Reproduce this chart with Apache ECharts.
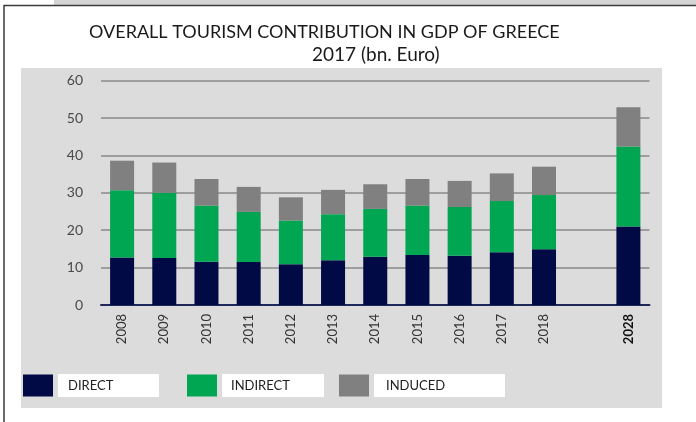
<!DOCTYPE html>
<html>
<head>
<meta charset="utf-8">
<script src="https://cdn.jsdelivr.net/npm/echarts@6/dist/echarts.min.js"></script>
<style>
  html, body { margin: 0; padding: 0; background: #ffffff; }
  #chart { width: 696px; height: 422px; }
</style>
</head>
<body>
<div id="chart"></div>
<script>
// Years on the axis; the blank slot separates the historic series from the 2028 forecast
const years = ['2008', '2009', '2010', '2011', '2012', '2013', '2014', '2015', '2016', '2017', '2018', '', '2028'];

// Contribution to GDP, bn. Euro
const direct   = [12.7, 12.6, 11.6, 11.5, 10.9, 12.0, 12.9, 13.4, 13.2, 14.1, 14.9, null, 21.0];
const indirect = [18.0, 17.4, 15.0, 13.4, 11.7, 12.3, 12.8, 13.2, 13.0, 13.7, 14.5, null, 21.4];
const induced  = [ 7.9,  8.1,  7.1,  6.7,  6.2,  6.5,  6.6,  7.1,  7.0,  7.4,  7.6, null, 10.5];

const yTicks = { min: 0, max: 60, interval: 10 };

const seriesNames = ['DIRECT', 'INDIRECT', 'INDUCED'];
const seriesColors = ['#020a45', '#00a651', '#808080'];

const chart = echarts.init(document.getElementById('chart'), null, { renderer: 'canvas' });

function legendFor(name, left, boxWidth, padLeft) {
  return {
    data: [name],
    left: left,
    top: 374,
    orient: 'horizontal',
    icon: 'rect',
    itemWidth: 30,
    itemHeight: 22,
    selectedMode: false,
    padding: 0,
    textStyle: {
      fontFamily: 'Lato, "Liberation Sans", sans-serif',
      fontSize: 13,
      color: '#222222',
      backgroundColor: '#ffffff',
      width: boxWidth - padLeft,
      height: 23,
      lineHeight: 23,
      padding: [0, 0, 0, padLeft]
    }
  };
}

const option = {
  backgroundColor: '#ffffff',
  animation: false,
  graphic: [
    // light strip along the top edge
    { type: 'rect', shape: { x: 54, y: 0, width: 642, height: 5 }, style: { fill: '#d4d4d4' }, z: -10 },
    // frame lines
    { type: 'line', shape: { x1: 4, y1: 5.5, x2: 696, y2: 5.5 }, style: { stroke: '#3a3a3a', lineWidth: 1.5 }, z: -9 },
    { type: 'line', shape: { x1: 4, y1: 5, x2: 4, y2: 422 }, style: { stroke: '#3a3a3a', lineWidth: 1.5 }, z: -9 },
    // grey plot panel
    { type: 'rect', shape: { x: 21, y: 68, width: 641, height: 340 }, style: { fill: '#dcdcdc' }, z: -8 }
  ],
  title: [
    {
      text: 'OVERALL TOURISM CONTRIBUTION IN GDP OF GREECE',
      left: 89, top: 23,
      padding: 0,
      textStyle: { fontFamily: 'Lato, "Liberation Sans", sans-serif', fontWeight: 'normal', fontSize: 18, color: '#1a1a1a' }
    },
    {
      text: '2017 (bn. Euro)',
      left: 312, top: 45,
      padding: 0,
      textStyle: { fontFamily: 'Lato, "Liberation Sans", sans-serif', fontWeight: 'normal', fontSize: 19, color: '#1a1a1a' }
    }
  ],
  legend: [
    legendFor('DIRECT', 23, 101, 10),
    legendFor('INDIRECT', 187, 102, 9),
    legendFor('INDUCED', 339, 131, 12)
  ],
  grid: { left: 101, right: 46.5, top: 80.7, bottom: 117 },
  xAxis: {
    type: 'category',
    data: years,
    boundaryGap: true,
    axisTick: { show: false },
    axisLine: { show: true, lineStyle: { color: '#1f2858', width: 2 } },
    axisLabel: {
      rotate: 90,
      margin: 9,
      interval: 0,
      fontFamily: 'Lato, "Liberation Sans", sans-serif',
      fontSize: 13,
      color: '#333333',
      formatter: function (v) { return v === '2028' ? '{b|' + v + '}' : v; },
      rich: { b: { fontWeight: 'bold', fontSize: 13, color: '#111111', fontFamily: 'Lato, "Liberation Sans", sans-serif' } }
    },
    splitLine: { show: false }
  },
  yAxis: {
    type: 'value',
    min: yTicks.min,
    max: yTicks.max,
    interval: yTicks.interval,
    axisLine: { show: false },
    axisTick: { show: false },
    axisLabel: {
      margin: 18,
      fontFamily: 'Lato, "Liberation Sans", sans-serif',
      fontSize: 14,
      color: '#4a4a4a'
    },
    splitLine: { show: true, lineStyle: { color: '#8a8a8a', width: 1.5 } }
  },
  series: [
    { name: seriesNames[0], type: 'bar', stack: 'gdp', data: direct,   barWidth: 24, itemStyle: { color: seriesColors[0] } },
    { name: seriesNames[1], type: 'bar', stack: 'gdp', data: indirect, barWidth: 24, itemStyle: { color: seriesColors[1] } },
    { name: seriesNames[2], type: 'bar', stack: 'gdp', data: induced,  barWidth: 24, itemStyle: { color: seriesColors[2] } }
  ]
};

chart.setOption(option);
</script>
</body>
</html>
